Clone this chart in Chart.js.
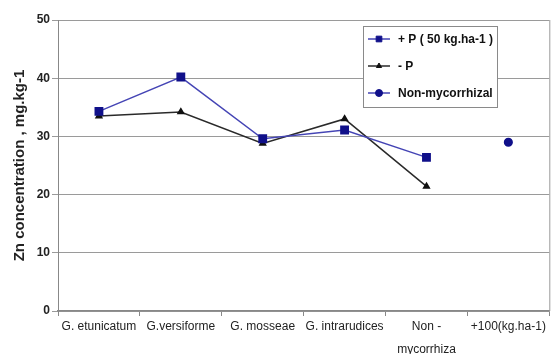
<!DOCTYPE html>
<html><head><meta charset="utf-8">
<script src="https://cdn.jsdelivr.net/npm/chart.js@4"></script>
<style>html,body{margin:0;padding:0;background:#fff}#wrap{width:556px;height:354px}</style>
</head><body><div id="wrap"><canvas id="c" width="556" height="354"></canvas></div>
<script>
const categories = ["G. etunicatum", "G.versiforme", "G. mosseae", "G. intrarudices", ["Non -", "mycorrhiza"], "+100(kg.ha-1)"];
const plusP = [34.3, 40.2, 29.6, 31.1, 26.4, null];
const minusP = [33.5, 34.2, 28.8, 33.0, 21.4, null];
const nonMyco = [null, null, null, null, null, 29.0];
const yTicks = [0, 10, 20, 30, 40, 50];
const seriesNames = ["+ P ( 50 kg.ha-1 )", "- P", "Non-mycorrhizal"];

const framePlugin = {
  id: 'frame',
  afterDraw(chart) {
    const {ctx, chartArea: a} = chart;
    ctx.save();
    ctx.strokeStyle = '#9a9a9a'; ctx.lineWidth = 1;
    ctx.beginPath(); ctx.moveTo(a.right + 0.5, a.top); ctx.lineTo(a.right + 0.5, a.bottom); ctx.stroke();
    // legend
    const x0 = 363, y0 = 26, w = 134, h = 81;
    ctx.fillStyle = '#fff'; ctx.fillRect(x0, y0, w, h);
    ctx.strokeStyle = '#8a8a8a'; ctx.strokeRect(x0 + 0.5, y0 + 0.5, w, h);
    const ys = [39, 66, 93];
    const legendRadius = [4, 3, 3.5];
    chart.data.datasets.forEach((ds, i) => {
      const y = ys[i];
      ctx.strokeStyle = ds.borderColor; ctx.lineWidth = 1.5;
      ctx.beginPath(); ctx.moveTo(368, y); ctx.lineTo(390, y); ctx.stroke();
      ctx.fillStyle = ds.pointBackgroundColor;
      ctx.strokeStyle = ds.pointBorderColor;
      ctx.lineWidth = 1;
      Chart.helpers.drawPoint(ctx, {pointStyle: ds.pointStyle, radius: legendRadius[i], borderWidth: 1}, 379, y);
      ctx.fillStyle = '#111';
      ctx.font = 'bold 12px Arial, "Liberation Sans", sans-serif';
      ctx.textBaseline = 'middle'; ctx.textAlign = 'left';
      ctx.fillText(seriesNames[i], 398, y + 1);
    });
    ctx.restore();
  }
};

new Chart(document.getElementById('c'), {
  type: 'line',
  data: {
    labels: categories,
    datasets: [
      {label: seriesNames[0], data: plusP, borderColor: '#4545b5', borderWidth: 1.5, pointStyle: 'rect', pointRadius: 5.2, pointBackgroundColor: '#10108a', pointBorderColor: '#10108a', tension: 0},
      {label: seriesNames[1], data: minusP, borderColor: '#2a2a2a', borderWidth: 1.5, pointStyle: 'triangle', pointRadius: 3.3, pointBackgroundColor: '#111', pointBorderColor: '#111', tension: 0},
      {label: seriesNames[2], data: nonMyco, borderColor: '#4545b5', borderWidth: 1.5, pointStyle: 'circle', pointRadius: 3.8, pointBackgroundColor: '#10108a', pointBorderColor: '#10108a', showLine: false}
    ]
  },
  options: {
    responsive: false, animation: false, devicePixelRatio: 1,
    layout: {padding: {top: 20, right: 4, left: 0, bottom: 0}},
    plugins: {legend: {display: false}, tooltip: {enabled: false}},
    scales: {
      x: {
        offset: true,
        grid: {display: true, drawOnChartArea: false, drawTicks: true, tickLength: 5, offset: true, color: '#888'},
        border: {display: true, color: '#888', width: 1.5},
        ticks: {color: '#222', font: {family: 'Arial, "Liberation Sans", sans-serif', size: 12, lineHeight: 1.9}, padding: -1, maxRotation: 0, autoSkip: false},
        afterFit(s) { s.height = 43; }
      },
      y: {
        min: 0, max: 50,
        afterBuildTicks(s) { s.ticks = yTicks.map(v => ({value: v})); },
        grid: {color: '#9a9a9a', tickLength: 6, lineWidth: 1},
        border: {display: true, color: '#888', width: 1},
        ticks: {color: '#222', font: {family: 'Arial, "Liberation Sans", sans-serif', size: 12, weight: 'bold'}, padding: 2},
        title: {display: true, text: 'Zn concentration , mg.kg-1', color: '#222', font: {family: 'Arial, "Liberation Sans", sans-serif', size: 15, weight: 'bold'}, padding: {top: 11, bottom: 0}},
        afterFit(s) { s.width = 58; }
      }
    }
  },
  plugins: [framePlugin]
});
</script></body></html>
